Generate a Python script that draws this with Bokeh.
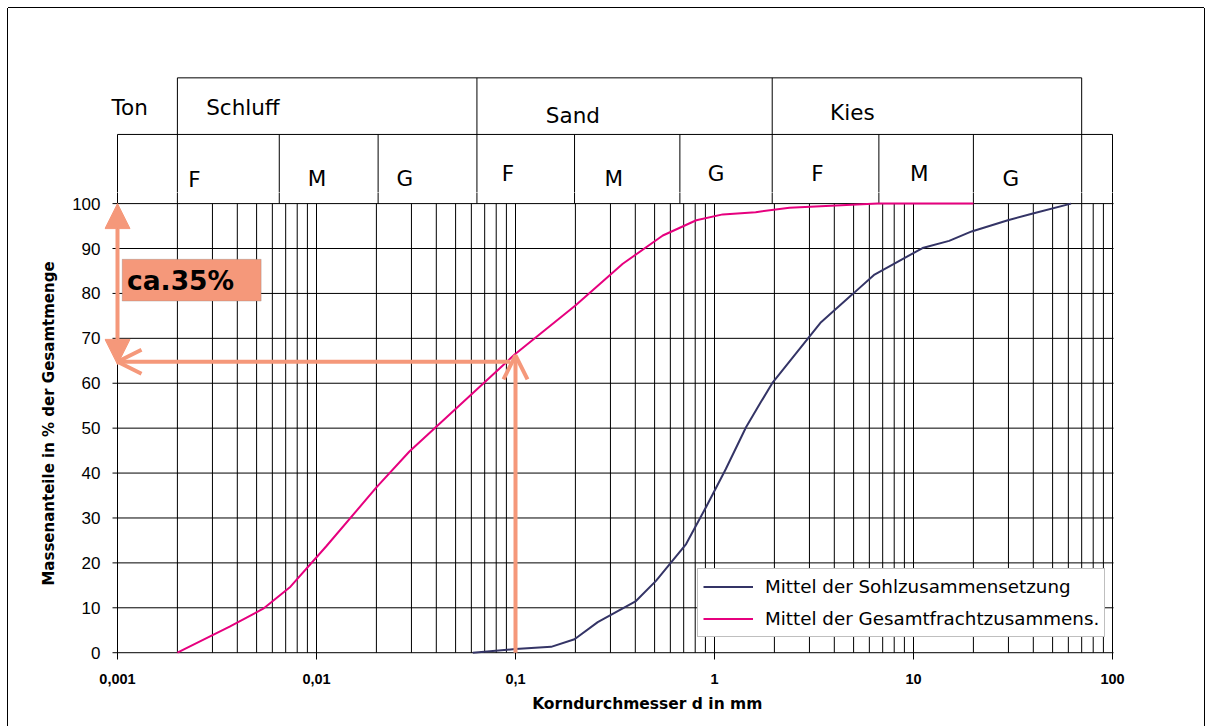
from bokeh.plotting import figure
from bokeh.layouts import column
from bokeh.models import (Range1d, FixedTicker, Arrow, NormalHead, OpenHead, BoxAnnotation,
                          Label, Legend, LegendItem)
from bokeh.core.properties import value
from bokeh.embed import file_html
from bokeh.resources import INLINE

# ---------------- data ----------------
korn_sohl = [0.061, 0.1, 0.151, 0.198, 0.259, 0.403, 0.508, 0.72, 0.906, 1.14, 1.44, 1.71,
             1.95, 3.43, 4.96, 6.37, 11.1, 15.1, 19.6, 29.8, 39.8, 61.9]
anteil_sohl = [0, 0.8, 1.3, 3.0, 6.8, 11.5, 16.0, 24.2, 32.4, 40.9, 50.2, 55.8,
               60.0, 73.6, 79.9, 84.2, 90.1, 91.7, 93.8, 96.3, 97.8, 100]
korn_fracht = [0.002, 0.00366, 0.0054, 0.0074, 0.0112, 0.02, 0.0293, 0.099, 0.2, 0.346,
               0.55, 0.81, 1.1, 1.61, 2.38, 6.6, 20]
anteil_fracht = [0, 5.8, 9.8, 14.7, 23.7, 36.8, 44.8, 66.4, 77.3, 86.6,
                 92.9, 96.3, 97.6, 98.1, 99.1, 100, 100]

name_sohl = "Mittel der Sohlzusammensetzung"
name_fracht = "Mittel der Gesamtfrachtzusammens."
x_title = "Korndurchmesser d in mm"
y_title = "Massenanteile in % der Gesamtmenge"

x_ticks = [0.001, 0.01, 0.1, 1, 10, 100]
x_tick_labels = ["0,001", "0,01", "0,1", "1", "10", "100"]
y_ticks = [0, 10, 20, 30, 40, 50, 60, 70, 80, 90, 100]

# header table (soil classes)
haupt_namen = ["Ton", "Schluff", "Sand", "Kies"]
haupt_x = [0.000933, 0.00279, 0.142, 3.81]
haupt_y = [121.4, 121.4, 119.6, 120.2]
unter_namen = ["F", "M", "G", "F", "M", "G", "F", "M", "G"]
unter_x = [0.00227, 0.00904, 0.0252, 0.0854, 0.280, 0.925, 3.06, 9.60, 28.0]
unter_y = [105.3, 105.7, 105.7, 106.6, 105.7, 106.6, 106.6, 106.6, 105.7]
haupt_grenzen = [0.002, 0.064, 1.95, 70]
unter_grenzen = [0.001, 0.0065, 0.0204, 0.198, 0.67, 6.7, 20, 100]
kopf_oben = 128.0
kopf_mitte = 115.4

# reading example
ablese_d = 0.1
ablese_wert = 65.0
anteil_text = "ca.35%"

# ---------------- styles / layout ----------------
PINK = "#E6007E"
NAVY = "#343466"
SALMON = "#F5987A"
FONT = "DejaVu Sans"

K = 4.491                       # pixels per percent
X_START = 10 ** (-3 - 13 / 199)
X_END = 10 ** (2 + 2 / 199)
x_range = Range1d(X_START, X_END)
W = 1196
BL, BR = 96, 90
H_HDR = 184
H_MAIN = 534
B_BOTTOM = 72
Y_LOW = -0.4
Y_SPLIT = (H_MAIN - B_BOTTOM) / K + Y_LOW

# ---- header figure (class table above the grid) ----
hdr = figure(width=W, height=H_HDR, x_axis_type="log", x_range=x_range,
             y_range=Range1d(Y_SPLIT, Y_SPLIT + H_HDR / K),
             x_axis_location=None, y_axis_location=None,
             output_backend="svg", toolbar_location=None,
             min_border_left=BL, min_border_right=BR, min_border_top=0, min_border_bottom=0)
hdr.grid.visible = False
hdr.outline_line_color = None
hdr.border_fill_color = "white"


def kopf_linien(fig):
    fig.segment(x0=haupt_grenzen, y0=[100] * len(haupt_grenzen), x1=haupt_grenzen,
                y1=[kopf_oben] * len(haupt_grenzen), line_color="black", line_width=1)
    fig.segment(x0=unter_grenzen, y0=[100] * len(unter_grenzen), x1=unter_grenzen,
                y1=[kopf_mitte] * len(unter_grenzen), line_color="black", line_width=1)


kopf_linien(hdr)
hdr.segment(x0=[haupt_grenzen[0], unter_grenzen[0]], y0=[kopf_oben, kopf_mitte],
            x1=[haupt_grenzen[-1], unter_grenzen[-1]], y1=[kopf_oben, kopf_mitte],
            line_color="black", line_width=1)
hdr.text(x=haupt_x, y=haupt_y, text=haupt_namen, text_font=value(FONT),
         text_font_size="21.5px", text_color="black", text_align="left", text_baseline="middle")
hdr.text(x=unter_x, y=unter_y, text=unter_namen, text_font=value(FONT),
         text_font_size="21.5px", text_color="black", text_align="left", text_baseline="middle")

# ---- main figure ----
p = figure(width=W, height=H_MAIN, x_axis_type="log", x_range=x_range,
           y_range=Range1d(Y_LOW, Y_SPLIT),
           output_backend="svg", toolbar_location=None,
           min_border_left=BL, min_border_right=BR, min_border_top=0,
           min_border_bottom=B_BOTTOM)
p.outline_line_color = None
p.border_fill_color = "white"
p.grid.visible = False

minor = [m * 10.0 ** k for k in range(-3, 2) for m in range(2, 10)]
p.xaxis.ticker = FixedTicker(ticks=x_ticks, minor_ticks=minor)
p.xaxis.major_label_overrides = {t: l for t, l in zip(x_ticks, x_tick_labels)}
p.xaxis.axis_line_color = None
p.xaxis.major_tick_line_color = "black"
p.xaxis.major_tick_out = 5
p.xaxis.major_tick_in = 2
p.xaxis.minor_tick_line_color = None
p.xaxis.major_label_text_font = "Liberation Sans"
p.xaxis.major_label_text_font_style = "bold"
p.xaxis.major_label_text_font_size = "14.5px"
p.xaxis.major_label_text_color = "black"
p.xaxis.major_label_standoff = 14
p.xaxis.axis_label = "\u00a0" * 14 + x_title
p.xaxis.axis_label_text_font = FONT
p.xaxis.axis_label_text_font_style = "bold"
p.xaxis.axis_label_text_font_size = "15.5px"
p.xaxis.axis_label_text_color = "black"
p.xaxis.axis_label_standoff = 8

p.yaxis.ticker = FixedTicker(ticks=y_ticks, minor_ticks=[])
p.yaxis.axis_line_color = None
p.yaxis.major_tick_line_color = None
p.yaxis.minor_tick_line_color = None
p.yaxis.major_tick_out = 0
p.yaxis.major_tick_in = 0
p.yaxis.major_label_text_font = "Liberation Sans"
p.yaxis.major_label_text_font_size = "17px"
p.yaxis.major_label_text_color = "black"
p.yaxis.major_label_standoff = 4
p.yaxis.axis_label = y_title
p.yaxis.axis_label_text_font = FONT
p.yaxis.axis_label_text_font_style = "bold"
p.yaxis.axis_label_text_font_size = "15px"
p.yaxis.axis_label_text_color = "black"
p.yaxis.axis_label_standoff = 11

# vertical log grid (0 % .. 100 %)
v_lines = [m * 10.0 ** k for k in range(-3, 2) for m in range(1, 10)] + [100]
p.segment(x0=v_lines, y0=[0] * len(v_lines), x1=v_lines, y1=[100] * len(v_lines),
          line_color="black", line_width=1)
# horizontal grid lines, with short stubs left of the axis like tick marks
h_x0 = 10 ** (-3 - 5 / 199)
h_x1 = 10 ** (2 + 1 / 199)
p.segment(x0=[h_x0] * len(y_ticks), y0=y_ticks, x1=[h_x1] * len(y_ticks), y1=y_ticks,
          line_color="black", line_width=1)
# class boundaries continue into the strip above 100 %
kopf_linien(p)

# curves
r_sohl = p.line(korn_sohl, anteil_sohl, line_color=NAVY, line_width=2)
r_fracht = p.line(korn_fracht, anteil_fracht, line_color=PINK, line_width=2)

legend = Legend(items=[LegendItem(label=name_sohl, renderers=[r_sohl]),
                       LegendItem(label=name_fracht, renderers=[r_fracht])],
                location=(593, 17), orientation="vertical",
                border_line_color="#808080", border_line_width=1,
                background_fill_color="white", background_fill_alpha=1,
                label_text_font=FONT, label_text_font_size="18.3px",
                label_text_color="black",
                glyph_width=50, glyph_height=25, label_height=25,
                label_standoff=12, spacing=7, padding=5, margin=0)
p.add_layout(legend)

# reading annotation
p.add_layout(BoxAnnotation(left=0.001056, right=0.00527, bottom=78.3, top=87.6,
                           fill_color=SALMON, fill_alpha=1,
                           line_color="#7f7f7f", line_width=1))
p.add_layout(Label(x=0.001116, y=82.9, text=anteil_text, text_font=FONT,
                   text_font_style="bold", text_font_size="26.5px", text_color="black",
                   text_baseline="middle", text_align="left"))
p.add_layout(Arrow(x_start=0.001, y_start=ablese_wert - 0.8, x_end=0.001, y_end=100,
                   start=NormalHead(size=25, fill_color=SALMON, line_color=SALMON),
                   end=NormalHead(size=25, fill_color=SALMON, line_color=SALMON),
                   line_color=SALMON, line_width=4))
p.add_layout(Arrow(x_start=0.094, y_start=ablese_wert - 0.2, x_end=0.001, y_end=ablese_wert - 0.2,
                   end=OpenHead(size=24, line_color=SALMON, line_width=4),
                   line_color=SALMON, line_width=4))
p.add_layout(Arrow(x_start=ablese_d, y_start=0, x_end=ablese_d, y_end=ablese_wert + 1.2,
                   end=OpenHead(size=24, line_color=SALMON, line_width=4),
                   line_color=SALMON, line_width=4))

layout = column(hdr, p, margin=(8, 0, 0, 8), spacing=0)
layout.styles = {"box-shadow": "0 -1px 0 0 #000, -1px 0 0 0 #000, 1px 0 0 0 #000"}

open("out.html", "w").write(file_html(layout, INLINE))
